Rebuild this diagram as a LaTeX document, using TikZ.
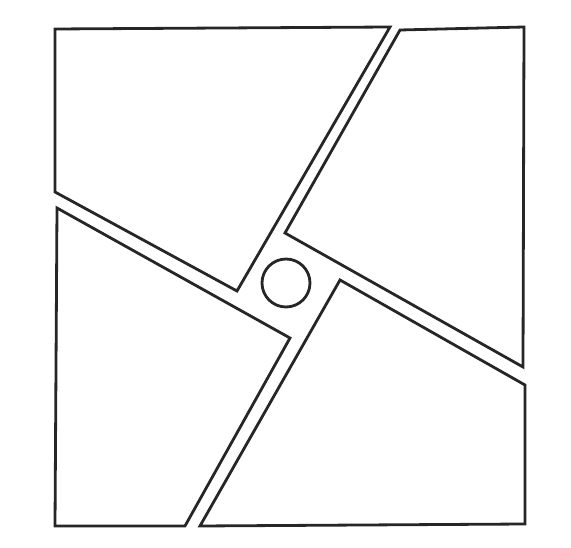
\documentclass[tikz,border=0pt]{standalone}
\usepackage{tikz}

\begin{document}
\begin{tikzpicture}[x=1pt,y=-1pt]
                % fix the page
                \useasboundingbox (0,0) rectangle (571,548);

                % the four blocks
                \draw[black!85, line width=2.8pt] (390,27) -- (55,29) -- (55,192) -- (237,291) -- cycle;
                \draw[black!85, line width=2.8pt] (400,30) -- (524,27) -- (523,367) -- (285,233) -- cycle;
                \draw[black!85, line width=2.8pt] (525,385) -- (525,524) -- (200,526) -- (340,280) -- cycle;
                \draw[black!85, line width=2.8pt] (185,526) -- (55,526) -- (57,208) -- (290,338) -- cycle;

                % the circle in the middle
                \draw[black!85, line width=2.8pt] (286,283) circle (24);
\end{tikzpicture}
\end{document}
